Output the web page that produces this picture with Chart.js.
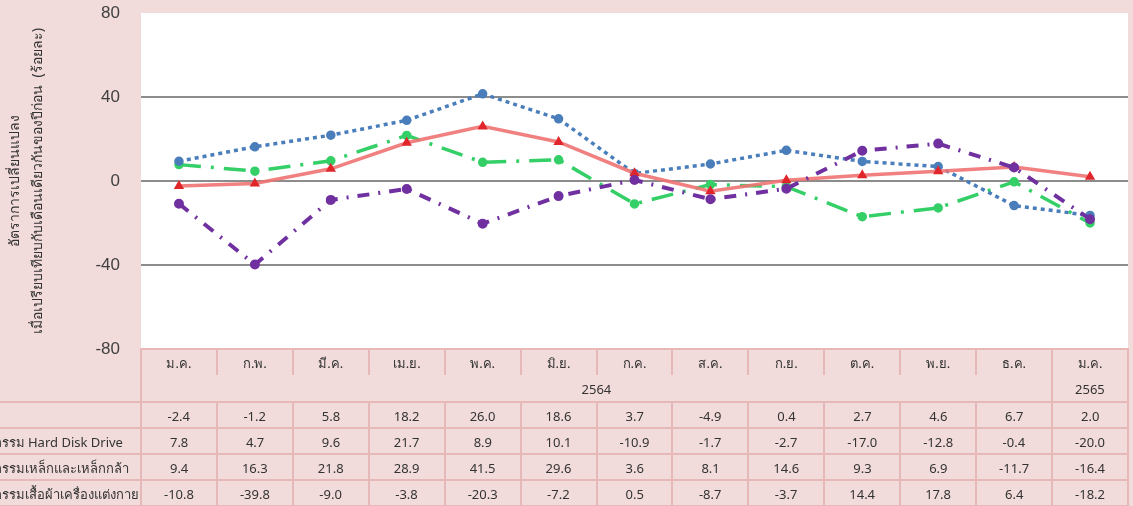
<!DOCTYPE html>
<html>
<head>
<meta charset="utf-8">
<script src="https://cdn.jsdelivr.net/npm/chart.js@4"></script>
<style>
  body { margin: 0; background: #f2dcdb; font-family: "Noto Sans", "DejaVu Sans", sans-serif; }
  #wrap { position: relative; width: 1133px; height: 506px; overflow: hidden; }
  #chart { position: absolute; left: 0; top: 0; }
  .ln { position: absolute; background: #e6b9b8; }
  .tx { position: absolute; font-size: 13px; color: #333; white-space: nowrap; line-height: 16px; }
</style>
</head>
<body>
<div id="wrap">
  <canvas id="chart" width="1133" height="506"></canvas>
  <div id="table"></div>
</div>
<script>
const months = ["ม.ค.", "ก.พ.", "มี.ค.", "เม.ย.", "พ.ค.", "มิ.ย.", "ก.ค.", "ส.ค.", "ก.ย.", "ต.ค.", "พ.ย.", "ธ.ค.", "ม.ค."];
const years = [
  { label: "2564", from: 0, to: 11 },
  { label: "2565", from: 12, to: 12 },
];
const yTicks = [-80, -40, 0, 40, 80];

const seriesNames = [
  "MPI",
  "อุตสาหกรรม Hard Disk Drive",
  "อุตสาหกรรมเหล็กและเหล็กกล้า",
  "อุตสาหกรรมเสื้อผ้าเครื่องแต่งกาย",
];
const mpi = [-2.4, -1.2, 5.8, 18.2, 26.0, 18.6, 3.7, -4.9, 0.4, 2.7, 4.6, 6.7, 2.0];
const hdd = [7.8, 4.7, 9.6, 21.7, 8.9, 10.1, -10.9, -1.7, -2.7, -17.0, -12.8, -0.4, -20.0];
const steel = [9.4, 16.3, 21.8, 28.9, 41.5, 29.6, 3.6, 8.1, 14.6, 9.3, 6.9, -11.7, -16.4];
const apparel = [-10.8, -39.8, -9.0, -3.8, -20.3, -7.2, 0.5, -8.7, -3.7, 14.4, 17.8, 6.4, -18.2];

const tableRows = [mpi, hdd, steel, apparel];

const plotBg = {
  id: "plotBg",
  beforeDraw(chart) {
    const { ctx, chartArea: a } = chart;
    ctx.save();
    ctx.fillStyle = "#ffffff";
    ctx.fillRect(a.left, a.top, a.right - a.left, a.bottom - a.top);
    ctx.restore();
  },
};

const chart = new Chart(document.getElementById("chart"), {
  type: "line",
  data: {
    labels: months,
    datasets: [
      {
        label: seriesNames[1],
        data: hdd,
        borderColor: "#35cf67",
        backgroundColor: "#35cf67",
        borderWidth: 3.5,
        borderDash: [22, 10, 3, 10],
        pointRadius: 3,
        order: 4,
      },
      {
        label: seriesNames[2],
        data: steel,
        borderColor: "#4a7ebb",
        backgroundColor: "#4a7ebb",
        borderWidth: 3.5,
        borderDash: [4, 4],
        pointRadius: 3,
        order: 3,
      },
      {
        label: seriesNames[0],
        data: mpi,
        borderColor: "rgba(240,115,115,0.9)",
        backgroundColor: "#e0262b",
        pointBorderColor: "#e0262b",
        borderWidth: 3.5,
        pointStyle: "triangle",
        pointRadius: 2.5,
        order: 2,
      },
      {
        label: seriesNames[3],
        data: apparel,
        borderColor: "#7030a0",
        backgroundColor: "#7030a0",
        borderWidth: 4,
        borderDash: [12, 9, 2, 9],
        pointRadius: 3,
        order: 1,
      },
    ],
  },
  options: {
    responsive: false,
    animation: false,
    layout: { autoPadding: false, padding: { top: 13, right: 5, bottom: 157 } },
    plugins: { legend: { display: false }, tooltip: { enabled: false } },
    elements: { line: { tension: 0 }, point: { borderWidth: 1 } },
    scales: {
      x: { display: false, offset: true },
      y: {
        min: -80,
        max: 80,
        afterBuildTicks(scale) {
          scale.ticks = yTicks.map((v) => ({ value: v }));
        },
        afterFit(scale) {
          scale.width = 141;
          scale.paddingTop = 0;
          scale.paddingBottom = 0;
        },
        border: { display: false },
        grid: {
          drawTicks: false,
          lineWidth: 2,
          color: (c) => (c.tick && Math.abs(c.tick.value) === 80 ? "rgba(0,0,0,0)" : "#8c8c8c"),
        },
        ticks: {
          padding: 21,
          color: "#404040",
          font: { family: "'Liberation Sans', Arial, sans-serif", size: 17 },
        },
        title: {
          display: true,
          text: ["อัตราการเปลี่ยนแปลง", "เมื่อเปรียบเทียบกับเดือนเดียวกันของปีก่อน  (ร้อยละ)"],
          color: "#333",
          padding: { top: 4, bottom: 0 },
          font: { family: "'Noto Sans', 'DejaVu Sans', sans-serif", size: 14, lineHeight: 1.6 },
        },
      },
    },
  },
  plugins: [plotBg],
});

// data table under the plot, aligned with the x scale
const table = document.getElementById("table");
const area = chart.chartArea;
const xs = chart.scales.x;
const colW = (area.right - area.left) / months.length;
const top0 = area.bottom;
const headH = 27, yearH = 26, rowH = 26;
const rowTops = [top0 + headH + yearH];
for (let i = 1; i <= tableRows.length; i++) rowTops.push(rowTops[0] + i * rowH);

function line(x, y, w, h) {
  const d = document.createElement("div");
  d.className = "ln";
  d.style.left = x - 1 + "px";
  d.style.top = y - 1 + "px";
  d.style.width = w + "px";
  d.style.height = h + "px";
  table.appendChild(d);
}
function text(str, cx, cy, align) {
  const d = document.createElement("div");
  d.className = "tx";
  d.textContent = str;
  table.appendChild(d);
  const w = d.offsetWidth;
  d.style.left = (align === "left" ? cx : cx - w / 2) + "px";
  d.style.top = cy - 8 + "px";
  return d;
}

line(area.left, top0, area.right - area.left + 2, 2);
rowTops.forEach((y) => line(0, y, area.right + 2, 2));
line(area.left, top0, 2, 506 - top0);
line(area.right, top0, 2, 506 - top0);
for (let i = 1; i < months.length; i++) {
  const x = area.left + i * colW;
  const full = years.some((yr) => yr.from === i);
  line(x, top0, 2, full ? 506 - top0 : headH);
  if (!full) line(x, rowTops[0], 2, 506 - rowTops[0]);
}

months.forEach((m, i) => text(m, xs.getPixelForValue(i), top0 + 14));
years.forEach((yr) => {
  const cx = (xs.getPixelForValue(yr.from) + xs.getPixelForValue(yr.to)) / 2;
  text(yr.label, cx, top0 + headH + yearH / 2);
});
tableRows.forEach((vals, r) => {
  const cy = rowTops[r] + rowH / 2 + 1;
  vals.forEach((v, i) => text(v.toFixed(1), xs.getPixelForValue(i), cy));
});

// legend labels: left aligned, the start of each name runs off the left edge
const p1 = text("อุตสาห", 0, -100, "left");
const p2 = text("ก", 0, -100, "left");
const labelLeft = -(p1.offsetWidth + p2.offsetWidth * 0.8);
p1.remove();
p2.remove();
seriesNames.forEach((name, r) => text(name, labelLeft, rowTops[r] + rowH / 2 + 1, "left"));
</script>
</body>
</html>
